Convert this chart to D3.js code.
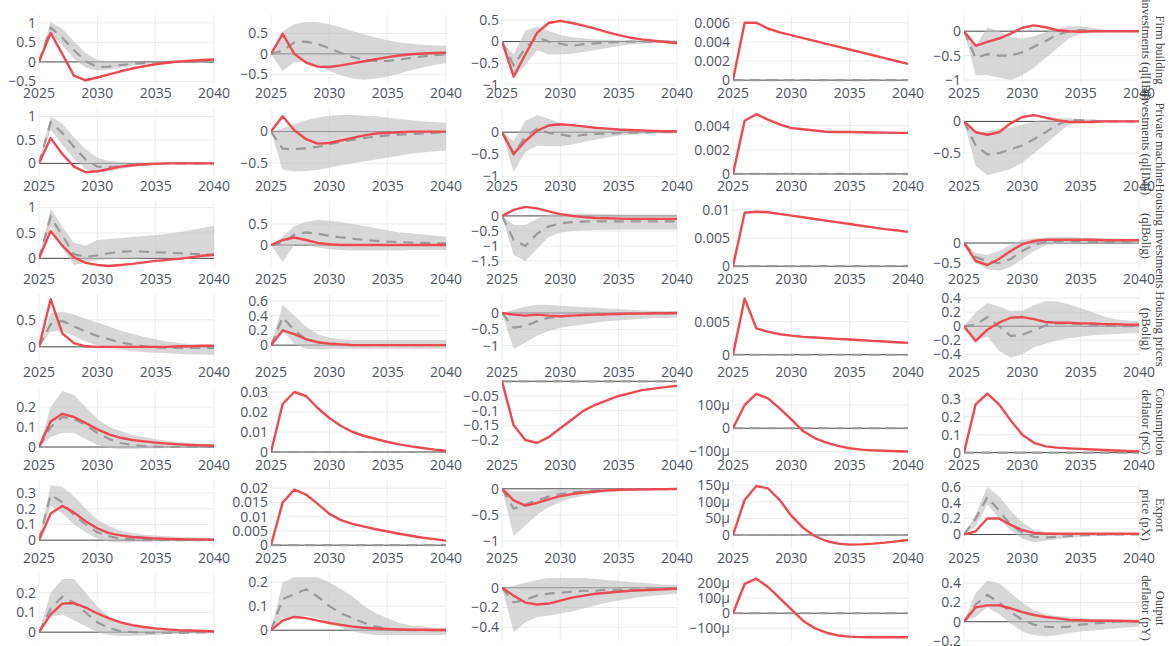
<!DOCTYPE html>
<html><head><meta charset="utf-8">
<script src="https://cdn.jsdelivr.net/npm/d3@7"></script>
<style>body{margin:0;background:#fff}svg{display:block}</style>
</head><body><svg id="c" width="1175" height="646"></svg>
<script>
const years = [2025,2026,2027,2028,2029,2030,2031,2032,2033,2034,2035,2036,2037,2038,2039,2040];
const xTicks = [2025,2030,2035,2040];
const rowLabels = [
  ["Firm building","investments (ql[IB])"],
  ["Private machine","investments (ql[IM])"],
  ["Housing investments","(qlBolig)"],
  ["Housing prices","(pBolig)"],
  ["Consumption","deflator (pC)"],
  ["Export","price (pX)"],
  ["Output","deflator (pY)"]
];
const Z = [0,0,0,0,0,0,0,0,0,0,0,0,0,0,0,0];
const u = 1e-6;

// red line: model response
const modelIRF = [
 [[0,0.74,0.2,-0.35,-0.47,-0.4,-0.32,-0.24,-0.17,-0.11,-0.06,-0.02,0.01,0.03,0.05,0.06],
  [0,0.49,0,-0.21,-0.31,-0.32,-0.28,-0.23,-0.18,-0.13,-0.08,-0.04,-0.01,0.01,0.02,0.03],
  [0,-0.81,-0.3,0.2,0.43,0.48,0.43,0.37,0.3,0.22,0.15,0.09,0.05,0.02,-0.01,-0.04],
  [0,0.006,0.006,0.0054,0.005,0.0047,0.0044,0.0041,0.0038,0.0035,0.0032,0.0029,0.0026,0.0023,0.002,0.0017],
  [0,-0.3,-0.22,-0.15,-0.05,0.07,0.12,0.08,0.02,0,-0.01,0,0,0,0,0]],
 [[0,0.54,0.2,-0.07,-0.19,-0.17,-0.12,-0.07,-0.04,-0.02,-0.01,0,0,0,0,0],
  [0,0.24,0.02,-0.12,-0.19,-0.18,-0.14,-0.1,-0.06,-0.03,-0.02,-0.01,0,0,0,0],
  [0,-0.49,-0.2,0.03,0.15,0.18,0.16,0.13,0.1,0.08,0.06,0.05,0.04,0.03,0.02,0.02],
  [0,0.0044,0.00495,0.0045,0.0041,0.0038,0.0037,0.0036,0.0035,0.00348,0.00347,0.00345,0.00343,0.00342,0.0034,0.0034],
  [0,-0.17,-0.21,-0.17,-0.03,0.07,0.1,0.06,0.02,-0.01,-0.01,-0.01,0,0,0,0]],
 [[0,0.54,0.25,0.02,-0.09,-0.13,-0.15,-0.13,-0.11,-0.08,-0.05,-0.03,-0.01,0.02,0.05,0.07],
  [0,0.12,0.18,0.12,0.05,0.02,0,0,0,0,0,0,0,0,0,0],
  [0,0.2,0.3,0.25,0.15,0.06,0,-0.04,-0.07,-0.08,-0.09,-0.1,-0.1,-0.1,-0.1,-0.1],
  [0,0.0095,0.0097,0.0096,0.0093,0.009,0.0087,0.0084,0.0081,0.0078,0.0075,0.0072,0.0069,0.0066,0.0064,0.0061],
  [0,-0.45,-0.55,-0.4,-0.2,-0.03,0.05,0.08,0.08,0.08,0.08,0.08,0.07,0.07,0.07,0.07]],
 [[0,0.88,0.25,0.07,0.01,0,0,0,0,0,0,0,0.01,0.01,0.02,0.02],
  [0,0.2,0.15,0.08,0.04,0.02,0.01,0,0,0,0,0,0,0,0,0],
  [0,-0.05,-0.08,-0.05,-0.08,-0.1,-0.08,-0.06,-0.05,-0.04,-0.03,-0.02,-0.02,-0.01,-0.01,0],
  [0,0.0085,0.004,0.0035,0.0031,0.0029,0.0027,0.0026,0.0025,0.0024,0.0023,0.0022,0.0021,0.002,0.0019,0.0018],
  [0,-0.21,-0.05,0.05,0.12,0.13,0.1,0.06,0.05,0.05,0.04,0.04,0.03,0.03,0.02,0.02]],
 [[0,0.128,0.166,0.15,0.12,0.088,0.063,0.046,0.035,0.028,0.022,0.017,0.013,0.01,0.008,0.006],
  [0,0.024,0.03,0.028,0.022,0.017,0.013,0.01,0.008,0.0065,0.005,0.0038,0.0028,0.002,0.0012,0.0006],
  [0,-0.15,-0.2,-0.21,-0.19,-0.16,-0.13,-0.1,-0.08,-0.065,-0.05,-0.04,-0.03,-0.025,-0.02,-0.015],
  [0,100*u,148*u,128*u,85*u,38*u,-12*u,-42*u,-62*u,-76*u,-86*u,-92*u,-95*u,-97*u,-99*u,-100*u],
  [0,0.27,0.33,0.27,0.18,0.1,0.055,0.035,0.028,0.024,0.021,0.018,0.015,0.012,0.01,0.008]],
 [[0,0.17,0.218,0.175,0.12,0.075,0.045,0.03,0.02,0.015,0.01,0.008,0.006,0.005,0.004,0.003],
  [0,0.015,0.0195,0.0178,0.0145,0.011,0.0088,0.0075,0.0065,0.0056,0.0048,0.004,0.0033,0.0026,0.0021,0.0016],
  [0,-0.22,-0.32,-0.27,-0.2,-0.14,-0.1,-0.07,-0.05,-0.03,-0.02,-0.015,-0.01,-0.008,-0.005,-0.003],
  [0,105*u,147*u,140*u,105*u,58*u,22*u,-3*u,-18*u,-26*u,-29*u,-28*u,-26*u,-23*u,-19*u,-15*u],
  [0,0.04,0.2,0.2,0.12,0.055,0.02,0.01,0.01,0.01,0.01,0.01,0.01,0.01,0.01,0.01]],
 [[0,0.09,0.145,0.148,0.125,0.095,0.07,0.05,0.036,0.026,0.019,0.014,0.01,0.008,0.006,0.005],
  [0,0.04,0.055,0.05,0.04,0.03,0.022,0.015,0.01,0.007,0.005,0.003,0.002,0.002,0.001,0.001],
  [0,-0.08,-0.15,-0.17,-0.16,-0.13,-0.1,-0.08,-0.06,-0.05,-0.04,-0.03,-0.025,-0.02,-0.015,-0.01],
  [0,195*u,230*u,175*u,100*u,25*u,-50*u,-100*u,-130*u,-148*u,-156*u,-159*u,-160*u,-160*u,-160*u,-160*u],
  [0,0.15,0.17,0.17,0.14,0.1,0.07,0.05,0.035,0.02,0.015,0.01,0.01,0.01,0.008,0.005]]
];

// grey dashed line: median
const medianIRF = [
 [[0,0.88,0.62,0.3,0.02,-0.13,-0.12,-0.08,-0.05,-0.03,-0.01,0,0,0,0,0],
  [0,0.08,0.28,0.3,0.24,0.14,0.02,-0.08,-0.14,-0.17,-0.17,-0.14,-0.1,-0.06,-0.03,-0.01],
  [0,-0.55,-0.15,0.1,0,-0.05,-0.1,-0.06,-0.04,-0.02,-0.01,0,0,0,0,0],
  Z,
  [0,-0.55,-0.47,-0.5,-0.5,-0.43,-0.32,-0.2,-0.07,0,0.02,0.01,0,0,0,0]],
 [[0,0.88,0.65,0.35,0.08,-0.07,-0.08,-0.06,-0.04,-0.02,-0.01,0,0,0,0,0],
  [0,-0.27,-0.28,-0.26,-0.24,-0.2,-0.16,-0.13,-0.1,-0.08,-0.06,-0.05,-0.04,-0.03,-0.02,-0.01],
  [0,-0.5,-0.1,0.08,-0.02,-0.05,-0.1,-0.06,-0.04,-0.03,-0.02,-0.01,-0.01,0,0,0],
  Z,
  [0,-0.38,-0.52,-0.5,-0.44,-0.38,-0.28,-0.17,-0.05,0.02,0.02,0.01,0,0,0,0]],
 [[0,0.82,0.45,0.08,0.03,0.06,0.1,0.13,0.14,0.13,0.12,0.11,0.1,0.09,0.08,0.07],
  [0,0.05,0.25,0.3,0.27,0.22,0.18,0.15,0.12,0.1,0.08,0.07,0.06,0.05,0.04,0.04],
  [0,-0.8,-1.0,-0.6,-0.35,-0.25,-0.21,-0.19,-0.18,-0.18,-0.18,-0.18,-0.18,-0.18,-0.18,-0.18],
  Z,
  [0,-0.35,-0.45,-0.5,-0.4,-0.2,-0.05,0.02,0.04,0.04,0.04,0.03,0.02,0.02,0.01,0.01]],
 [[0,0.42,0.48,0.38,0.28,0.2,0.14,0.08,0.04,0.01,-0.01,-0.02,-0.02,-0.02,-0.02,-0.02],
  [0,0.38,0.2,0.08,0.04,0.02,0.01,0,0,0,0,0,0,0,0,0],
  [0,-0.45,-0.4,-0.25,-0.15,-0.1,-0.08,-0.06,-0.05,-0.04,-0.03,-0.02,-0.02,-0.01,-0.01,0],
  Z,
  [0,0.02,0.13,0,-0.14,-0.12,-0.06,0.01,0.04,0.04,0.03,0.02,0.01,0,0,0]],
 [[0,0.1,0.15,0.14,0.11,0.07,0.04,0.02,0.01,0.005,0.002,0,0,0,0,0],
  Z, Z, Z, Z],
 [[0,0.29,0.24,0.16,0.1,0.05,0.025,0.01,0.005,0,0,0,0,0,0,0],
  Z,
  [0,-0.38,-0.3,-0.22,-0.15,-0.1,-0.07,-0.05,-0.03,-0.02,-0.015,-0.01,-0.008,-0.006,-0.004,-0.003],
  Z,
  [0,0.2,0.47,0.3,0.12,0.02,-0.03,-0.04,-0.03,-0.02,-0.01,-0.01,0,0,0,0]],
 [[0,0.12,0.18,0.15,0.1,0.05,0.02,0.005,0,-0.003,-0.003,-0.003,-0.002,-0.002,-0.001,-0.001],
  [0,0.13,0.15,0.17,0.14,0.1,0.07,0.05,0.03,0.015,0.005,0,0,0,0,0],
  [0,-0.15,-0.12,-0.08,-0.06,-0.05,-0.04,-0.03,-0.03,-0.02,-0.02,-0.02,-0.015,-0.01,-0.01,-0.01],
  Z,
  [0,0.18,0.28,0.2,0.1,0.02,-0.03,-0.05,-0.06,-0.05,-0.03,-0.02,-0.01,0,0,0]]
];

// grey band: upper bound
const bandHigh = [
 [[0,1.02,0.85,0.52,0.22,0.05,0.02,0.01,0.01,0,0,0,0,0,0,0],
  [0,0.55,0.72,0.78,0.78,0.72,0.65,0.56,0.47,0.4,0.33,0.28,0.25,0.22,0.21,0.2],
  [0,-0.3,0.25,0.35,0.25,0.15,0.1,0.07,0.05,0.04,0.03,0.03,0.03,0.03,0.03,0.03],
  Z,
  [0,-0.3,0.08,0,-0.12,-0.15,-0.1,-0.02,0.05,0.1,0.1,0.07,0.03,0.02,0.01,0.01]],
 [[0,1.0,0.85,0.55,0.3,0.12,0.05,0.02,0.01,0,0,0,0,0,0,0],
  [0,0.05,0.12,0.18,0.22,0.25,0.26,0.26,0.25,0.24,0.22,0.2,0.18,0.16,0.15,0.14],
  [0,-0.2,0.25,0.39,0.3,0.2,0.15,0.12,0.1,0.08,0.06,0.05,0.04,0.04,0.03,0.03],
  Z,
  [0,-0.2,-0.15,-0.12,-0.1,-0.05,0,0.03,0.05,0.05,0.04,0.03,0.02,0.01,0.01,0.01]],
 [[0,0.98,0.62,0.3,0.25,0.36,0.38,0.4,0.42,0.44,0.46,0.48,0.52,0.56,0.6,0.64],
  [0,0.2,0.45,0.55,0.6,0.58,0.55,0.5,0.45,0.4,0.35,0.3,0.28,0.25,0.22,0.2],
  [0,-0.3,-0.3,-0.1,0.05,0.08,0.08,0.07,0.06,0.06,0.05,0.05,0.05,0.05,0.05,0.05],
  Z,
  [0,-0.25,-0.3,-0.2,-0.05,0.08,0.12,0.14,0.15,0.15,0.14,0.13,0.12,0.11,0.1,0.1]],
 [[0,0.62,0.65,0.6,0.52,0.45,0.38,0.3,0.24,0.18,0.14,0.1,0.07,0.05,0.04,0.04],
  [0,0.55,0.4,0.25,0.15,0.1,0.08,0.07,0.07,0.07,0.07,0.07,0.07,0.07,0.07,0.07],
  [0,0.1,0.2,0.25,0.25,0.22,0.2,0.18,0.16,0.14,0.12,0.1,0.08,0.07,0.06,0.05],
  Z,
  [0,0.2,0.33,0.28,0.22,0.22,0.3,0.36,0.35,0.31,0.26,0.2,0.14,0.1,0.08,0.07]],
 [[0,0.2,0.28,0.26,0.2,0.14,0.1,0.08,0.06,0.05,0.04,0.03,0.025,0.02,0.018,0.015],
  Z, Z, Z, Z],
 [[0,0.35,0.34,0.28,0.2,0.13,0.09,0.06,0.045,0.035,0.03,0.025,0.02,0.018,0.015,0.013],
  Z,
  [0,-0.05,-0.05,-0.05,-0.03,-0.02,-0.01,0,0,0,0,0,0,0,0,0],
  Z,
  [0,0.25,0.6,0.48,0.3,0.15,0.06,0.03,0.02,0.02,0.02,0.02,0.02,0.02,0.02,0.02]],
 [[0,0.2,0.27,0.27,0.2,0.13,0.08,0.05,0.035,0.025,0.02,0.016,0.013,0.011,0.01,0.009],
  [0,0.2,0.22,0.22,0.22,0.2,0.17,0.14,0.1,0.07,0.05,0.03,0.02,0.015,0.01,0.01],
  [0,0.02,0.05,0.08,0.1,0.1,0.1,0.1,0.09,0.08,0.07,0.06,0.05,0.04,0.03,0.03],
  Z,
  [0,0.3,0.43,0.4,0.3,0.2,0.12,0.08,0.06,0.05,0.04,0.03,0.03,0.02,0.02,0.02]]
];

// grey band: lower bound
const bandLow = [
 [[0,0.72,0.42,0.08,-0.15,-0.22,-0.2,-0.15,-0.1,-0.06,-0.03,-0.02,-0.01,0,0,0],
  [0,-0.42,-0.2,-0.2,-0.3,-0.42,-0.52,-0.6,-0.63,-0.6,-0.55,-0.48,-0.4,-0.33,-0.27,-0.23],
  [0,-0.85,-0.55,-0.2,-0.3,-0.3,-0.28,-0.24,-0.2,-0.15,-0.1,-0.07,-0.05,-0.04,-0.03,-0.03],
  Z,
  [0,-0.9,-0.9,-0.95,-1.0,-0.9,-0.75,-0.55,-0.35,-0.15,-0.05,-0.03,-0.01,0,0,0]],
 [[0,0.72,0.4,0.1,-0.12,-0.2,-0.17,-0.12,-0.08,-0.05,-0.03,-0.01,0,0,0,0],
  [0,-0.6,-0.63,-0.62,-0.6,-0.57,-0.53,-0.5,-0.47,-0.44,-0.41,-0.38,-0.35,-0.33,-0.31,-0.3],
  [0,-0.9,-0.45,-0.3,-0.32,-0.32,-0.28,-0.22,-0.17,-0.12,-0.08,-0.06,-0.04,-0.03,-0.02,-0.02],
  Z,
  [0,-0.7,-0.85,-0.8,-0.75,-0.65,-0.5,-0.35,-0.2,-0.05,-0.02,-0.01,0,0,0,0]],
 [[0,0.62,0.2,-0.13,-0.08,-0.04,-0.02,-0.01,-0.01,0,0,0,0,0,0.01,0.02],
  [0,-0.4,0,0,-0.05,-0.1,-0.12,-0.13,-0.13,-0.13,-0.13,-0.13,-0.12,-0.12,-0.12,-0.12],
  [0,-1.3,-1.5,-1.1,-0.7,-0.55,-0.5,-0.48,-0.47,-0.46,-0.45,-0.45,-0.45,-0.45,-0.45,-0.45],
  Z,
  [0,-0.5,-0.65,-0.7,-0.6,-0.4,-0.2,-0.06,-0.02,-0.01,0,0,0,0,0,0]],
 [[0,0.28,0.3,0.2,0.1,0.03,-0.02,-0.05,-0.08,-0.1,-0.11,-0.12,-0.13,-0.14,-0.14,-0.15],
  [0,0.2,0.02,-0.05,-0.06,-0.05,-0.05,-0.05,-0.05,-0.05,-0.05,-0.05,-0.05,-0.05,-0.05,-0.05],
  [0,-1.1,-0.9,-0.7,-0.55,-0.45,-0.4,-0.35,-0.3,-0.25,-0.22,-0.2,-0.18,-0.16,-0.15,-0.14],
  Z,
  [0,-0.2,-0.15,-0.35,-0.45,-0.4,-0.3,-0.25,-0.2,-0.17,-0.15,-0.13,-0.12,-0.11,-0.1,-0.1]],
 [[0,0.05,0.07,0.07,0.04,0.01,-0.005,-0.01,-0.01,-0.008,-0.006,-0.005,-0.004,-0.003,-0.002,-0.002],
  Z, Z, Z, Z],
 [[0,0.22,0.17,0.1,0.05,0.01,-0.01,-0.015,-0.012,-0.01,-0.008,-0.006,-0.005,-0.004,-0.003,-0.003],
  Z,
  [0,-0.9,-0.7,-0.5,-0.35,-0.25,-0.18,-0.13,-0.09,-0.07,-0.05,-0.04,-0.03,-0.02,-0.02,-0.015],
  Z,
  [0,0.1,0.38,0.2,0.05,-0.05,-0.1,-0.08,-0.06,-0.04,-0.03,-0.02,-0.02,-0.02,-0.01,-0.01]],
 [[0,0.08,0.09,0.06,0.03,0,-0.015,-0.02,-0.02,-0.017,-0.014,-0.011,-0.009,-0.007,-0.006,-0.005],
  [0,0.05,0.05,0.06,0.05,0.03,0.01,-0.005,-0.015,-0.02,-0.02,-0.02,-0.02,-0.02,-0.02,-0.02],
  [0,-0.45,-0.35,-0.3,-0.28,-0.26,-0.24,-0.21,-0.18,-0.15,-0.13,-0.11,-0.09,-0.08,-0.07,-0.06],
  Z,
  [0,0.05,0.15,0.08,-0.02,-0.1,-0.14,-0.15,-0.14,-0.12,-0.1,-0.09,-0.08,-0.07,-0.06,-0.05]]
];

// y axis ranges per panel
const yRanges = [
 [[-0.54,1.355],[-0.71,1.095],[-0.96,0.755],[-0.0003,0.00744],[-1.06,0.454]],
 [[-0.27,1.311],[-0.7,0.466],[-0.99,0.681],[-0.00017,0.00596],[-0.86,0.306]],
 [[-0.21,1.248],[-0.57,1.19],[-1.77,0.697],[-0.0005,0.01267],[-0.65,1.2]],
 [[-0.28,1.088],[-0.23,0.779],[-1.5,0.765],[-0.0011,0.0101],[-0.51,0.544]],
 [[-0.04,0.33],[-0.0015,0.0355],[-0.251,0.001],[-115*u,203*u],[-0.013,0.4]],
 [[-0.05,0.421],[-0.001,0.025],[-1.13,0.283],[-39*u,183*u],[-0.17,0.76]],
 [[-0.045,0.331],[-0.045,0.263],[-0.54,0.211],[-185*u,308*u],[-0.2,0.569]]
];
// y tick values per panel
const yTicks = [
 [[-0.5,0,0.5,1],[-0.5,0,0.5],[-1,-0.5,0,0.5],[0,0.002,0.004,0.006],[-1,-0.5,0]],
 [[0,0.5,1],[-0.5,0],[-1,-0.5,0],[0,0.002,0.004],[-0.5,0]],
 [[0,0.5,1],[0,0.5],[-1.5,-1,-0.5,0],[0,0.005,0.01],[-0.5,0]],
 [[0,0.5],[0,0.2,0.4,0.6],[-1,-0.5,0],[0,0.005],[-0.4,-0.2,0,0.2,0.4]],
 [[0,0.1,0.2],[0,0.01,0.02,0.03],[-0.2,-0.15,-0.1,-0.05],[-100*u,0,100*u],[0,0.1,0.2,0.3]],
 [[0,0.1,0.2,0.3],[0,0.005,0.01,0.015,0.02],[-1,-0.5,0],[0,50*u,100*u,150*u],[0,0.2,0.4,0.6]],
 [[0,0.1,0.2],[0,0.1,0.2],[-0.4,-0.2,0],[-100*u,0,100*u,200*u],[-0.2,0,0.2,0.4]]
];

const colX = [39,271,502,733,964];
const plotW = 175, rowPitch = 93, top0 = 9, plotH = 74;
const fmt = v => {
  if (v === 0) return "0";
  let s;
  if (Math.abs(v) < 0.001) s = Math.round(v*1e6) + "μ";
  else s = String(+v.toPrecision(6));
  return s.replace("-", "\u2212");
};

const svg = d3.select("#c");
svg.append("rect").attr("width",1175).attr("height",646).attr("fill","#fff");
const defs = svg.append("defs");
const tickFont = "'Open Sans', sans-serif";

for (let r = 0; r < 7; r++) {
  for (let c = 0; c < 5; c++) {
    const x0 = colX[c], y0 = top0 + r*rowPitch;
    const x = d3.scaleLinear().domain([2025,2040]).range([x0, x0+plotW]);
    const y = d3.scaleLinear().domain(yRanges[r][c]).range([y0+plotH, y0]);
    const g = svg.append("g");
    const id = `clip${r}_${c}`;
    defs.append("clipPath").attr("id", id).append("rect")
      .attr("x", x0).attr("y", y0-1.5).attr("width", plotW).attr("height", plotH+3);
    g.selectAll(".vg").data(xTicks).join("line")
      .attr("x1", d=>x(d)).attr("x2", d=>x(d)).attr("y1", y0+6).attr("y2", y0+plotH)
      .attr("stroke","#ededed").attr("stroke-width",1);
    g.selectAll(".hg").data(yTicks[r][c].filter(v=>v!==0)).join("line")
      .attr("x1", x0).attr("x2", x0+plotW).attr("y1", d=>y(d)).attr("y2", d=>y(d))
      .attr("stroke","#ebebeb").attr("stroke-width",1);
    const [d0, d1] = yRanges[r][c];
    if (d0 <= 0 && d1 >= 0) {
      g.append("line").attr("x1",x0).attr("x2",x0+plotW).attr("y1",y(0)).attr("y2",y(0))
        .attr("stroke","#444").attr("stroke-width",1);
    }
    const pg = g.append("g").attr("clip-path", `url(#${id})`);
    const hi = bandHigh[r][c], lo = bandLow[r][c];
    const area = d3.area().x((d,i)=>x(years[i])).y0((d,i)=>y(lo[i])).y1((d,i)=>y(hi[i]));
    pg.append("path").datum(years).attr("d", area)
      .attr("fill","rgba(190,190,190,0.62)").attr("stroke","none");
    const line = d3.line().x((d,i)=>x(years[i])).y(d=>y(d));
    pg.append("path").datum(medianIRF[r][c]).attr("d", line)
      .attr("fill","none").attr("stroke","#9a9a9a").attr("stroke-width",2.2)
      .attr("stroke-dasharray","10,7");
    pg.append("path").datum(modelIRF[r][c]).attr("d", line)
      .attr("fill","none").attr("stroke","#ec4a50").attr("stroke-width",2.4)
      .attr("stroke-linejoin","round");
    g.selectAll(".yl").data(yTicks[r][c]).join("text")
      .attr("x", x0-3).attr("y", d=>y(d)).attr("dy","0.35em")
      .attr("text-anchor","end").attr("font-family",tickFont).attr("font-size",14)
      .attr("fill","#4d5462").text(fmt);
    if (r < 6) {
      g.selectAll(".xl").data(xTicks).join("text")
        .attr("x", d=>x(d)).attr("y", y0+plotH+15)
        .attr("text-anchor","middle").attr("font-family",tickFont).attr("font-size",14)
        .attr("fill","#4d5462").text(d=>d);
    }
  }
  const cy = 17 + r*rowPitch + 33;
  const t = svg.append("text")
    .attr("transform", `translate(1153,${cy}) rotate(90)`)
    .attr("text-anchor","middle").attr("font-family","'Liberation Serif', serif")
    .attr("font-size",12.5).attr("fill","#444");
  t.append("tspan").attr("x",0).attr("dy","-0.25em").text(rowLabels[r][0]);
  t.append("tspan").attr("x",0).attr("dy","1.15em").text(rowLabels[r][1]);
}
</script></body></html>
